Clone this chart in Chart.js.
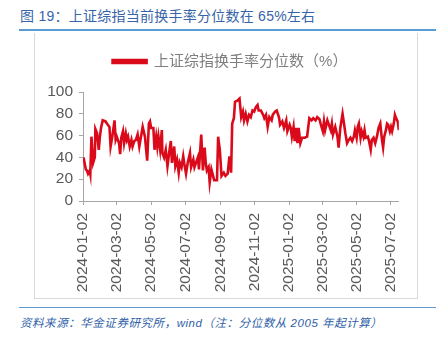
<!DOCTYPE html>
<html>
<head>
<meta charset="utf-8">
<script src="https://cdn.jsdelivr.net/npm/chart.js@4"></script>
<style>
  html, body { margin: 0; padding: 0; background: #fff; }
  body { width: 440px; height: 338px; position: relative; overflow: hidden;
         font-family: "Liberation Sans", "Noto Sans CJK SC", sans-serif; }
  #title { position: absolute; left: 20px; top: 5px; font-size: 14px; color: #3764A8;
           letter-spacing: 0.25px; white-space: nowrap; }
  #topline { position: absolute; left: 19px; top: 29px; width: 417px; height: 2px; background: #5B9BD5; }
  #frame { position: absolute; left: 34px; top: 33px; width: 384px; height: 266px;
           border: 1px solid #D9D9D9; border-top: none; box-sizing: border-box; }
  #chartbox { position: absolute; left: 35px; top: 34px; width: 383px; height: 265px; }
  #botline { position: absolute; left: 19px; top: 307px; width: 417px; height: 1px; background: #5B9BD5; }
  #source { position: absolute; left: 20px; top: 314px; font-size: 11.5px; font-style: italic;
            color: #2F5FA8; white-space: nowrap; letter-spacing: 0.55px; }
</style>
</head>
<body>
<div id="title">图 19：上证综指当前换手率分位数在 65%左右</div>
<div id="topline"></div>
<div id="frame"></div>
<div id="chartbox"><canvas id="c" width="383" height="265"></canvas></div>
<div id="botline"></div>
<div id="source">资料来源：华金证券研究所，wind（注：分位数从 2005 年起计算）</div>
<script>
const seriesName = "上证综指换手率分位数（%）";
const tickLabels = ["2024-01-02","2024-03-02","2024-05-02","2024-07-02","2024-09-02",
                    "2024-11-02","2025-01-02","2025-03-02","2025-05-02","2025-07-02"];
const axisStart = "2024-01-02";
const axisEnd = "2025-07-16";
const dates = [
 "2024-01-03","2024-01-07","2024-01-09","2024-01-11","2024-01-14","2024-01-15","2024-01-17","2024-01-20","2024-01-23","2024-01-24",
 "2024-01-27","2024-01-30","2024-02-01","2024-02-03","2024-02-06","2024-02-11","2024-02-15","2024-02-18","2024-02-20","2024-02-23",
 "2024-02-27","2024-02-29","2024-03-02","2024-03-06","2024-03-08","2024-03-10","2024-03-13","2024-03-15","2024-03-18","2024-03-20",
 "2024-03-22","2024-03-25","2024-03-28","2024-03-30","2024-04-02","2024-04-05","2024-04-08","2024-04-11","2024-04-14","2024-04-17",
 "2024-04-21","2024-04-25","2024-04-28","2024-04-30","2024-05-02","2024-05-06","2024-05-08","2024-05-11","2024-05-13","2024-05-15",
 "2024-05-18","2024-05-21","2024-05-22","2024-05-25","2024-05-28","2024-05-31","2024-06-03","2024-06-06","2024-06-08","2024-06-12",
 "2024-06-14","2024-06-17","2024-06-20","2024-06-22","2024-06-25","2024-06-28","2024-06-30","2024-07-03","2024-07-06","2024-07-10",
 "2024-07-12","2024-07-16","2024-07-18","2024-07-22","2024-07-24","2024-07-26","2024-07-30","2024-08-02","2024-08-05","2024-08-07",
 "2024-08-09","2024-08-12","2024-08-14","2024-08-17","2024-08-20","2024-08-22","2024-08-27",
 "2024-08-29","2024-09-01","2024-09-04","2024-09-08","2024-09-11","2024-09-15","2024-09-18","2024-09-21","2024-09-23","2024-09-26",
 "2024-09-28","2024-10-02","2024-10-06","2024-10-09","2024-10-12","2024-10-14","2024-10-17","2024-10-20","2024-10-23","2024-10-26",
 "2024-10-29","2024-11-01","2024-11-04","2024-11-07","2024-11-09","2024-11-13","2024-11-17","2024-11-19","2024-11-22","2024-11-25",
 "2024-11-28","2024-12-02","2024-12-04","2024-12-08","2024-12-11","2024-12-15","2024-12-17","2024-12-21","2024-12-24","2024-12-28",
 "2024-12-30","2025-01-03","2025-01-05","2025-01-07","2025-01-10","2025-01-12","2025-01-14","2025-01-17","2025-01-19","2025-01-22",
 "2025-01-25","2025-01-30","2025-02-03","2025-02-07","2025-02-11","2025-02-14","2025-02-18","2025-02-21","2025-02-25","2025-02-27",
 "2025-03-03","2025-03-05","2025-03-07","2025-03-11","2025-03-13","2025-03-17","2025-03-19","2025-03-21","2025-03-25","2025-03-29",
 "2025-03-31","2025-04-03","2025-04-07","2025-04-09","2025-04-12","2025-04-15","2025-04-18","2025-04-21","2025-04-24","2025-04-27",
 "2025-04-29","2025-05-02","2025-05-04","2025-05-06","2025-05-09","2025-05-11","2025-05-14","2025-05-16","2025-05-18","2025-05-22",
 "2025-05-24","2025-05-27","2025-05-29","2025-06-01","2025-06-04","2025-06-07","2025-06-10","2025-06-13","2025-06-16","2025-06-18",
 "2025-06-20","2025-06-23","2025-06-25","2025-06-27","2025-06-30","2025-07-02","2025-07-04","2025-07-07","2025-07-09","2025-07-11",
 "2025-07-14","2025-07-16"
];
const turnoverPct = [
 40,29,28,25,28,25,59,35,40,66, 62,47,59,67,74,73,70,68,50,59,
 74,56,59,53,43,58,64,53,62,56, 59,50,56,50,55,56,61,50,59,68,
 59,37,71,73,67,67,47,59,50,59, 47,65,44,40,47,32,44,55,35,50,
 32,38,26,35,31,41,34,25,35,44, 31,38,31,37,40,29,61,28,49,35,
 28,31,17,29,23,19,19,
 59,47,23,26,23,25,41,26,71,76, 91,92,94,77,82,74,80,73,79,77,
 83,82,86,88,83,83,79,76,79,68, 77,74,79,82,83,77,70,73,67,74,
 64,70,67,59,68,55,67,53,67,53, 58,58,59,76,74,76,74,77,75,71,
 64,73,65,74,71,65,71,61,68,59, 49,67,80,73,62,53,56,58,55,59,
 65,58,68,71,58,64,59,65,58,59, 55,47,56,58,53,59,67,71,56,49,
 59,65,71,70,64,68,64,71,79,76, 73,65
];
const yTicks = [0, 20, 40, 60, 80, 100];

function dayNum(s) {
  const [y, m, d] = s.split("-").map(Number);
  const [y0, m0, d0] = axisStart.split("-").map(Number);
  return Math.round((Date.UTC(y, m - 1, d) - Date.UTC(y0, m0 - 1, d0)) / 86400000);
}
const tickDays = tickLabels.map(dayNum);
const points = dates.map((d, i) => ({ x: dayNum(d), y: turnoverPct[i] }));

const red = "#DA0A1A";
const axisColor = "#A6A6A6";
const labelColor = "#595959";
const fam = "'Liberation Sans', 'Noto Sans CJK SC', sans-serif";

new Chart(document.getElementById("c"), {
  type: "line",
  data: {
    datasets: [{
      label: seriesName,
      data: points,
      borderColor: red,
      backgroundColor: red,
      borderWidth: 2.6,
      pointRadius: 0,
      tension: 0,
      fill: false
    }]
  },
  options: {
    responsive: false,
    animation: false,
    events: [],
    layout: { padding: { left: 24, right: 17, top: 8, bottom: 6 } },
    plugins: {
      tooltip: { enabled: false },
      title: {
        display: true,
        text: "",
        weight: 500,
        font: { size: 1, lineHeight: 1 },
        padding: { top: 0, bottom: 12 }
      },
      legend: {
        display: true,
        position: "top",
        labels: {
          boxWidth: 34,
          boxHeight: 3,
          padding: 12,
          color: "#7F7F7F",
          font: { family: fam, size: 15 }
        }
      }
    },
    scales: {
      x: {
        type: "linear",
        min: dayNum(axisStart),
        max: dayNum(axisEnd),
        afterBuildTicks: (s) => { s.ticks = tickDays.map(v => ({ value: v })); },
        afterFit: (s) => { s.height = 92; },
        border: { display: true, color: axisColor, width: 1 },
        grid: { drawOnChartArea: false, drawTicks: true, tickLength: 4, color: axisColor },
        ticks: {
          autoSkip: false,
          maxRotation: 90,
          minRotation: 90,
          padding: 8,
          color: labelColor,
          font: { family: fam, size: 15.5 },
          callback: (v) => { const i = tickDays.indexOf(v); return i >= 0 ? tickLabels[i] : ""; }
        }
      },
      y: {
        min: 0,
        max: 100,
        afterBuildTicks: (s) => { s.ticks = yTicks.map(v => ({ value: v })); },
        afterFit: (s) => {
          s.width = 24;
          s._computeLabelArea = () => undefined;
        },
        border: { display: true, color: axisColor, width: 1 },
        grid: { drawOnChartArea: false, drawTicks: true, tickLength: 4, color: axisColor },
        ticks: {
          autoSkip: false,
          padding: 6,
          color: labelColor,
          font: { family: fam, size: 15.5 }
        }
      }
    }
  }
});
</script>
</body>
</html>
